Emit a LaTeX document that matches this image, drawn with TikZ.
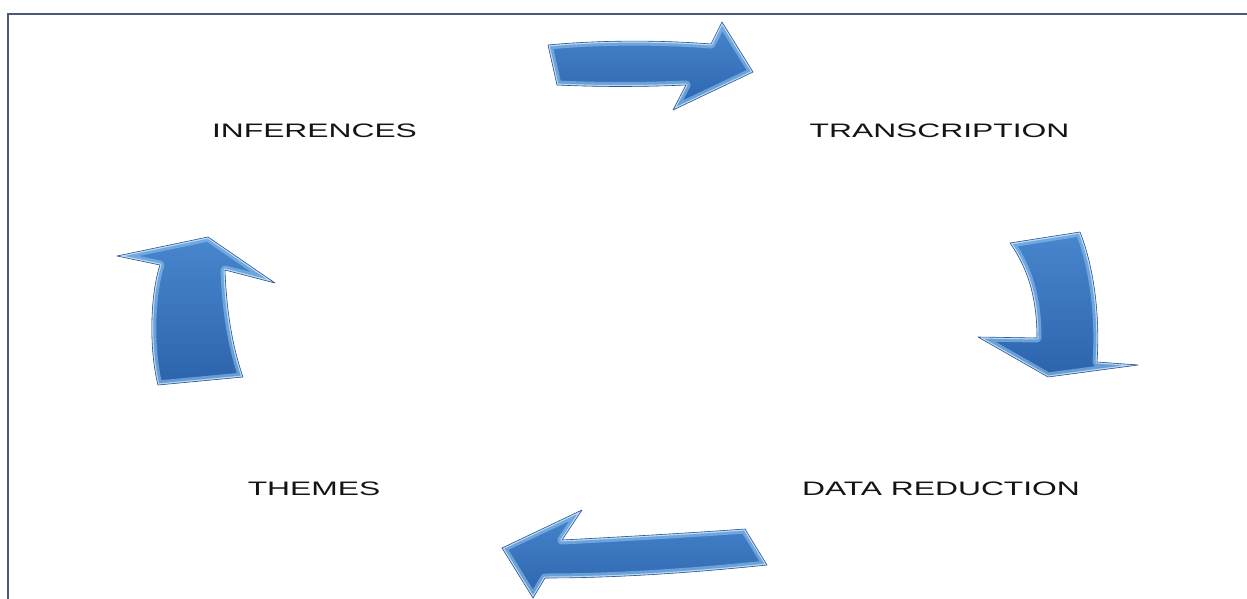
\documentclass[tikz,border=0pt]{standalone}
\usepackage{fontspec}
\setmainfont{Liberation Sans}
\definecolor{frameC}{RGB}{74,90,120}
\definecolor{faceTop}{RGB}{72,134,206}
\definecolor{faceBot}{RGB}{44,100,172}
\definecolor{bevelC}{RGB}{140,195,240}
\definecolor{edgeC}{RGB}{40,88,155}
\definecolor{txtC}{RGB}{20,20,20}
\tikzset{
  lbl/.style={text=txtC, font=\fontsize{19.5}{20}\selectfont, xscale=1.63, inner sep=0pt, anchor=center},
  framestyle/.style={draw=frameC, line width=2.4pt},
}
\newcommand{\glossyarrow}[3]{%
  \shade[top color=#2, bottom color=#3] #1;
  \begin{scope}
    \clip #1;
    \draw[bevelC, line width=9pt, opacity=0.6, line join=round] #1;
    \draw[white, line width=3pt, opacity=0.6, line join=round] #1;
  \end{scope}
  \draw[edgeC, line width=0.6pt, line join=round] #1;
}
\begin{document}
\begin{tikzpicture}[x=1pt,y=-1pt]
\useasboundingbox (0,0) rectangle (1247,599);
\fill[white] (0,0) rectangle (1247,599);
% frame
\draw[framestyle] (8,599) -- (8,14) -- (1247,14);
% labels
\node[lbl] (inf) at (314.5,130.5) {INFERENCES};
\node[lbl] (tra) at (939.5,130.5) {TRANSCRIPTION};
\node[lbl] (dat) at (941,488.5) {DATA REDUCTION};
\node[lbl] (the) at (314,488.5) {THEMES};
% top arrow (INFERENCES -> TRANSCRIPTION)
\glossyarrow{(548,45) .. controls (600,40) and (660,40) .. (711,44) -- (722,22) -- (753,72) -- (673,110) -- (686,85) .. controls (640,87) and (600,87) .. (557,85) -- cycle}{faceTop}{faceBot}
% right arrow (TRANSCRIPTION -> DATA REDUCTION)
\glossyarrow{(1010,243) -- (1080,232) .. controls (1095,270) and (1100,320) .. (1097,362) -- (1138,365) -- (1048,377) -- (978,337) -- (1037,338) .. controls (1037,300) and (1029,270) .. (1010,243) -- cycle}{faceTop}{faceBot}
% bottom arrow (DATA REDUCTION -> THEMES)
\glossyarrow{(502,548) -- (582,510) -- (562,540) .. controls (620,537) and (690,533) .. (745,529) -- (767,565) .. controls (700,572) and (620,578) .. (545,578) -- (533,598) -- cycle}{faceTop}{faceBot}
% left arrow (THEMES -> INFERENCES)
\glossyarrow{(158,385) .. controls (149,350) and (150,295) .. (160,265) -- (117,256) -- (208,237) -- (275,283) -- (225,270) .. controls (226,300) and (230,340) .. (243,377) -- cycle}{faceTop}{faceBot}
\end{tikzpicture}
\end{document}
